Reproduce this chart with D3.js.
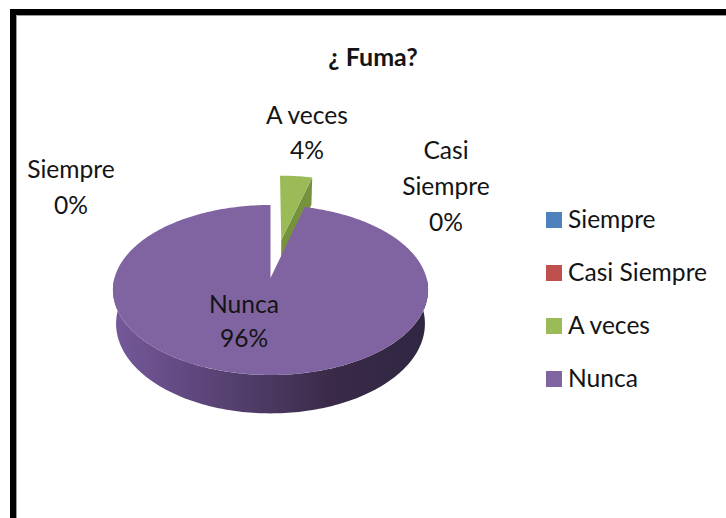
<!DOCTYPE html>
<html><head><meta charset="utf-8">
<script src="https://cdn.jsdelivr.net/npm/d3@7/dist/d3.min.js"></script>
<style>html,body{margin:0;padding:0;background:#fff}svg{display:block}text{font-family:Lato,sans-serif;fill:#141414}</style>
</head><body><svg id="c" width="726" height="518"></svg>
<script>
const title = "¿ Fuma?";
const categories = ["Siempre","Casi Siempre","A veces","Nunca"];
const values = [0,0,4,96];
const colors = ["#4f81bd","#c0504d","#9bbb59","#8064a2"];
const percentLabels = ["0%","0%","4%","96%"];

const svg = d3.select("#c");
const W=726,H=518;
// frame
svg.append("path").attr("d",`M13,${H}V12H${W}`).attr("fill","none").attr("stroke","#000").attr("stroke-width",6);
svg.append("path").attr("d",`M16.5,${H}V15.5H${W}`).attr("fill","none").attr("stroke","#9a9a9a").attr("stroke-width",1);

svg.append("text").attr("x",373).attr("y",66).attr("text-anchor","middle").attr("font-size",25).attr("font-weight",700).text(title);

// pie geometry with perspective projection of the unit disc
const cx=270.5, cy=278, c=156, b=83.3, k=0.141, depth=33, shrink=0.98;
function proj(u,v,low){
  const w=1+k*v;
  const s=low?shrink:1;
  return [cx+c*s*u/w, cy-b*v/w+(low?depth/w:0)];
}
const pieGen=d3.pie().value(d=>d).sort(null).startAngle(0).endAngle(2*Math.PI);
const arcs=pieGen(values);
const line=d3.line();
function rim(a0,a1,off,low){
  const n=Math.max(2,Math.ceil((a1-a0)/0.02));
  return d3.range(n+1).map(i=>{
    const t=a0+(a1-a0)*i/n;
    return proj(off[0]+Math.sin(t),off[1]+Math.cos(t),low);
  });
}
const defs=svg.append("defs");
const grad=defs.append("linearGradient").attr("id","side").attr("gradientUnits","userSpaceOnUse").attr("x1",113).attr("x2",428).attr("y1",0).attr("y2",0);
[[0,"#75599a"],[0.2,"#644b84"],[0.5,"#4a3860"],[0.7,"#3a2a47"],[1,"#2f2742"]].forEach(s=>grad.append("stop").attr("offset",s[0]).attr("stop-color",s[1]));

const explode=0.49;
const green=arcs[2], purple=arcs[3];
const mid=(green.startAngle+green.endAngle)/2;
const off=[explode*Math.sin(mid)*1.2,explode*Math.cos(mid)];
// exploded slice: cut face then top
const gOuterEnd=[off[0]+Math.sin(green.endAngle),off[1]+Math.cos(green.endAngle)];
svg.append("path").attr("fill","#76923c").attr("d",line([
  proj(off[0],off[1],false),proj(gOuterEnd[0],gOuterEnd[1],false),proj(gOuterEnd[0],gOuterEnd[1],true),proj(off[0],off[1],true)
])+"Z");
svg.append("path").attr("fill",colors[2]).attr("d",line([proj(off[0],off[1],false),...rim(green.startAngle,green.endAngle,off,false)])+"Z");

// main slice side wall
const pi=Math.PI;
const front=[...rim(pi/2,3*pi/2,[0,0],false),...rim(pi/2,3*pi/2,[0,0],true).reverse()];
svg.append("path").attr("fill","url(#side)").attr("d",line(front)+"Z");
// main slice top
svg.append("path").attr("fill",colors[3]).attr("d",line([proj(0,0,false),...rim(purple.startAngle,purple.endAngle,[0,0],false)])+"Z");

// data labels
const fs=24.6;
function label(x,ys,lines){lines.forEach((t,i)=>svg.append("text").attr("x",x).attr("y",ys[i]).attr("text-anchor","middle").attr("font-size",fs).text(t));}
label(71,[178,214],[categories[0],percentLabels[0]]);
label(446,[159,195,231],["Casi","Siempre",percentLabels[1]]);
label(307,[124,159],[categories[2],percentLabels[2]]);
label(244,[313,347],[categories[3],percentLabels[3]]);

// legend
const ly=d3.scalePoint().domain(categories).range([220,379]);
categories.forEach((n,i)=>{
  svg.append("rect").attr("x",546).attr("y",ly(n)-8).attr("width",16).attr("height",16).attr("fill",colors[i]);
  svg.append("text").attr("x",568).attr("y",ly(n)+8).attr("font-size",fs).text(n);
});
</script></body></html>
